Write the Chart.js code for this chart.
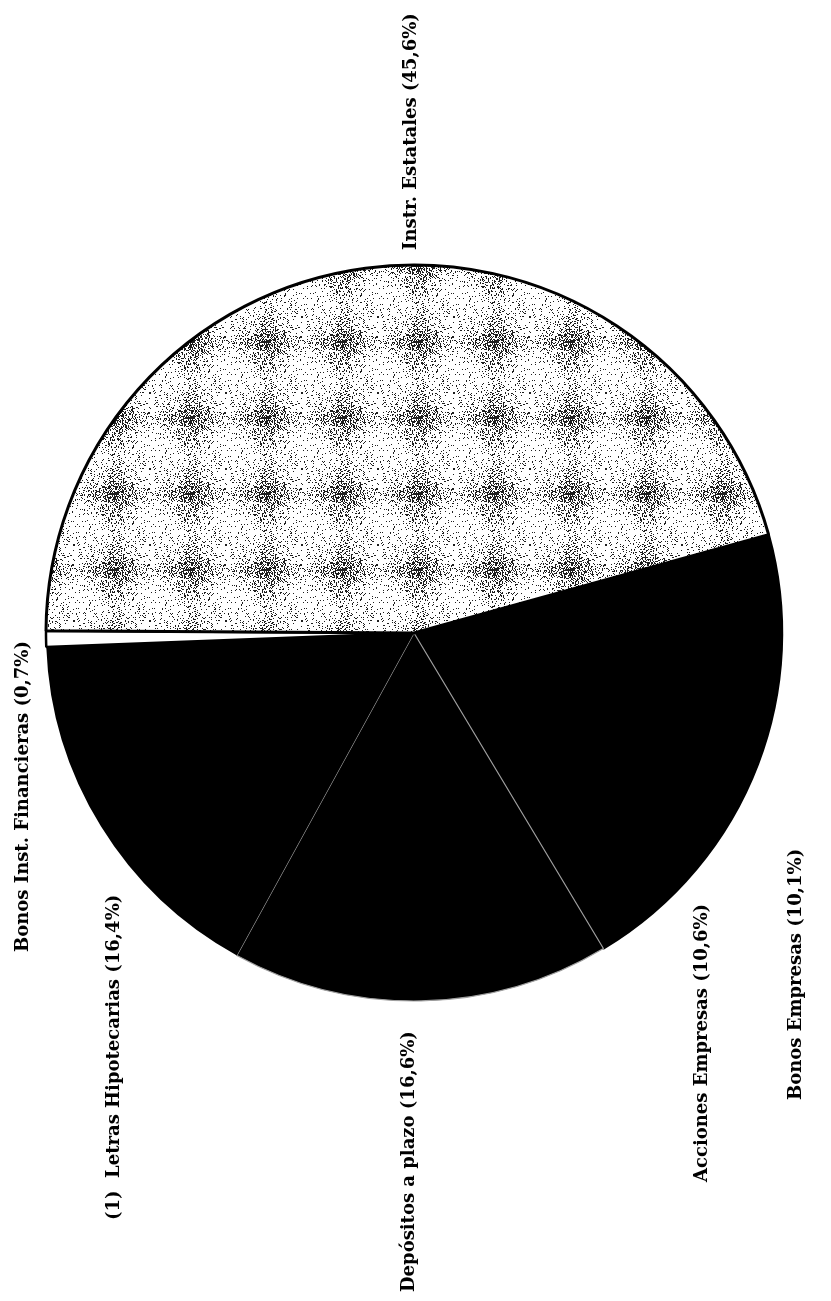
<!DOCTYPE html>
<html>
<head>
<meta charset="utf-8">
<script src="https://cdn.jsdelivr.net/npm/chart.js@4.4.0/dist/chart.umd.min.js"></script>
<style>
  html, body { margin: 0; padding: 0; background: #fff; }
  #wrap { position: relative; width: 831px; height: 1301px; }
</style>
</head>
<body>
<div id="wrap"><canvas id="pie-chart"></canvas></div>
<script>
// slices, clockwise starting at the Instr. Estatales / Bonos Empresas edge
const categories = ['Bonos Empresas', 'Acciones Empresas', 'Depósitos a plazo', '(1)  Letras Hipotecarias', 'Bonos Inst. Financieras', 'Instr. Estatales'];
const shares = [10.1, 10.6, 16.6, 16.4, 0.7, 45.6];
const shareText = ['10,1%', '10,6%', '16,6%', '16,4%', '0,7%', '45,6%'];

// where each rotated label starts (text reads bottom to top)
const labelAnchors = [
    { x: 796, y: 1100 },
    { x: 702, y: 1182 },
    { x: 409, y: 1292 },
    { x: 114, y: 1220 },
    { x: 23, y: 952 },
    { x: 411, y: 250 }
];

// speckled grey fill for the state instruments slice
function makeSpeckle() {
    const size = 76;
    const c = document.createElement('canvas');
    c.width = size; c.height = size;
    const g = c.getContext('2d');
    const img = g.createImageData(size, size);
    for (let y = 0; y < size; y++) {
        for (let x = 0; x < size; x++) {
            const dx = x - size / 2, dy = y - size / 2;
            const blob = Math.exp(-(dx * dx + dy * dy) / (2 * 14 * 14));
            const bar = Math.exp(-(dx * dx) / (2 * 5 * 5)) * 0.12 + Math.exp(-(dy * dy) / (2 * 5 * 5)) * 0.12;
            const density = 0.07 + 0.38 * blob + bar;
            const h = Math.abs(Math.sin(x * 12.9898 + y * 78.233) * 43758.5453) % 1;
            const v = h < density ? 30 : 255;
            const i = (y * size + x) * 4;
            img.data[i] = v; img.data[i + 1] = v; img.data[i + 2] = v; img.data[i + 3] = 255;
        }
    }
    g.putImageData(img, 0, 0);
    return g.createPattern(c, 'repeat');
}

const sideLabels = {
    id: 'sideLabels',
    afterDraw(chart) {
        const ctx = chart.ctx;
        ctx.save();
        ctx.fillStyle = '#000';
        ctx.font = 'bold 18px "DejaVu Serif", "Liberation Serif", serif';
        ctx.textAlign = 'left';
        ctx.textBaseline = 'middle';
        categories.forEach(function(name, i) {
            const p = labelAnchors[i];
            ctx.save();
            ctx.translate(p.x, p.y);
            ctx.rotate(-Math.PI / 2);
            ctx.fillText(name + ' (' + shareText[i] + ')', 0, 0);
            ctx.restore();
        });
        ctx.restore();
    }
};

const ctx = document.getElementById('pie-chart').getContext('2d');
window.pieChart = new Chart(ctx, {
    type: 'pie',
    data: {
        labels: categories,
        datasets: [{
            data: shares,
            backgroundColor: ['#000', '#000', '#000', '#000', '#fff', makeSpeckle()],
            borderColor: ['#000', '#000', '#a0a0a0', '#000', '#000', '#000'],
            borderWidth: [2.5, 2.5, 1.2, 0, 2.5, 3],
            radius: 368
        }]
    },
    options: {
        responsive: true,
        maintainAspectRatio: false,
        devicePixelRatio: 1,
        animation: false,
        rotation: 74.5,
        layout: {
            padding: { left: 46, right: 49, top: 265, bottom: 300 }
        },
        plugins: {
            legend: { display: false },
            tooltip: { enabled: false }
        }
    },
    plugins: [sideLabels]
});
</script>
</body>
</html>
